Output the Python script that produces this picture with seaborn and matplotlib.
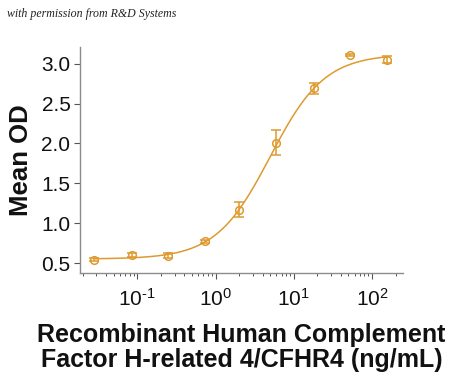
import numpy as np
import pandas as pd
import matplotlib
matplotlib.use("Agg")
import matplotlib.pyplot as plt
import seaborn as sns
from matplotlib.ticker import LogLocator, NullFormatter

# concentration (ng/mL) and mean OD
conc = [0.028, 0.085, 0.25, 0.74, 2.0, 5.9, 18, 53, 155]
mean_od = [0.54, 0.60, 0.59, 0.77, 1.17, 2.01, 2.69, 3.11, 3.05]
sd = [0.02, 0.02, 0.03, 0.02, 0.09, 0.16, 0.07, 0.01, 0.04]

# 4PL fit parameters (bottom, top, EC50, hill) estimated from the curve
fit_bottom = 0.55
fit_top = 3.12
fit_ec50 = 5.0
fit_hill = 1.25

x_ticks = [0.1, 1, 10, 100]
x_labels = ["$10^{\\text{-}1}$", "$10^{0}$", "$10^{1}$", "$10^{2}$"]

colour = "#DE9A2E"

df = pd.DataFrame({"conc": conc, "od": mean_od, "sd": sd})
xs = np.logspace(np.log10(0.028), np.log10(155), 300)
curve = pd.DataFrame({"conc": xs,
                      "od": fit_top + (fit_bottom - fit_top) / (1 + (xs / fit_ec50) ** fit_hill)})

sns.set_style("white")
plt.rcParams["font.family"] = ["Liberation Sans", "DejaVu Sans"]
plt.rcParams["mathtext.fontset"] = "custom"
plt.rcParams["mathtext.rm"] = "Liberation Sans"
plt.rcParams["mathtext.default"] = "regular"

fig = plt.figure(figsize=(4.5, 3.75), dpi=100)
ax = fig.add_axes([0.178, 0.272, 0.718, 0.603])

sns.lineplot(data=curve, x="conc", y="od", color=colour, lw=1.1, ax=ax)
ax.errorbar(df["conc"], df["od"], yerr=df["sd"], fmt="o", mfc="none", mec=colour,
            ecolor=colour, ms=5.5, mew=1.1, elinewidth=1.1, capsize=3.5, capthick=1.1)

ax.set_xscale("log")
ax.set_xlim(0.0186, 250)
ax.set_ylim(0.375, 3.21)
ax.set_yticks([0.5, 1.0, 1.5, 2.0, 2.5, 3.0])
ax.set_yticklabels(["0.5", "1.0", "1.5", "2.0", "2.5", "3.0"])
ax.set_xticks(x_ticks)
ax.set_xticklabels(x_labels)
ax.xaxis.set_minor_locator(LogLocator(base=10, subs=np.arange(2, 10), numticks=20))
ax.xaxis.set_minor_formatter(NullFormatter())

for s in ["top", "right"]:
    ax.spines[s].set_visible(False)
for s in ["left", "bottom"]:
    ax.spines[s].set_color("#8c8c8c")
    ax.spines[s].set_linewidth(1.0)

ax.tick_params(axis="both", which="major", labelsize=15, colors="#555555",
               labelcolor="#111111", length=4, width=0.8, direction="out", bottom=True, left=True)
ax.tick_params(axis="x", which="minor", length=2.5, width=0.7, colors="#555555", bottom=True)
ax.tick_params(axis="x", pad=7)
ax.tick_params(axis="y", pad=3)

ax.set_xlabel("Recombinant Human Complement\nFactor H-related 4/CFHR4 (ng/mL)",
              fontsize=18, fontweight="bold", labelpad=9, linespacing=1.05, color="#111111")
ax.set_ylabel("Mean OD", fontsize=18.5, fontweight="bold", labelpad=6, color="#111111")

fig.text(0.015, 0.955, "with permission from R&D Systems", fontsize=8.6,
         family="Liberation Serif", style="italic", color="#222222")

fig.savefig("out.png", dpi=100, facecolor="white")
